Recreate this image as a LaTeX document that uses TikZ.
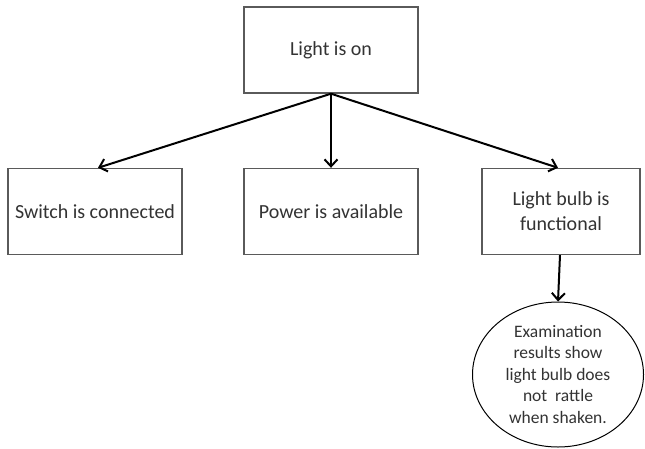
\documentclass[tikz,border=0pt]{standalone}
\usepackage{fontspec}
\setmainfont{Carlito}
\usetikzlibrary{arrows.meta,shapes.geometric}
\definecolor{boxline}{HTML}{5A5A5A}
\definecolor{txt}{HTML}{333333}
\tikzset{
  x=1pt, y=-1pt,
  factbox/.style={draw=boxline, line width=1.4pt, fill=white, minimum width=174pt,
    minimum height=86pt, inner sep=2pt, align=center, text=txt,
    font=\fontsize{20}{25}\selectfont},
  evidence/.style={ellipse, draw=black, line width=1pt, fill=white, minimum width=171pt,
    minimum height=145pt, inner sep=0pt, align=center, text=txt,
    font=\fontsize{17.5}{21.5}\selectfont},
  link/.style={draw=black, line width=2pt, -{Straight Barb[length=7pt,width=13pt,line width=2pt]}}
}
\begin{document}
\begin{tikzpicture}
\useasboundingbox (0,0) rectangle (645,448);
\node[factbox] (top) at (331,50) {Light is on};
\node[factbox] (sw) at (95,211.5) {Switch is connected};
\node[factbox] (pw) at (331,211.5) {Power is available};
\node[factbox, minimum width=158pt] (lb) at (561,211.5) {Light bulb is\\functional};
\node[evidence] (ex) at (558,374.5) {Examination\\results show\\light bulb does\\not\ \ rattle\\when shaken.};
\coordinate (swin) at ([xshift=3pt]sw.north);
\coordinate (lbin) at ([xshift=-3pt]lb.north);
\draw[link] (top.south) -- (swin);
\draw[link] (top.south) -- (pw.north);
\draw[link] (top.south) -- (lbin);
\draw[link] ([xshift=-1pt]lb.south) -- (ex.north);
\end{tikzpicture}
\end{document}
